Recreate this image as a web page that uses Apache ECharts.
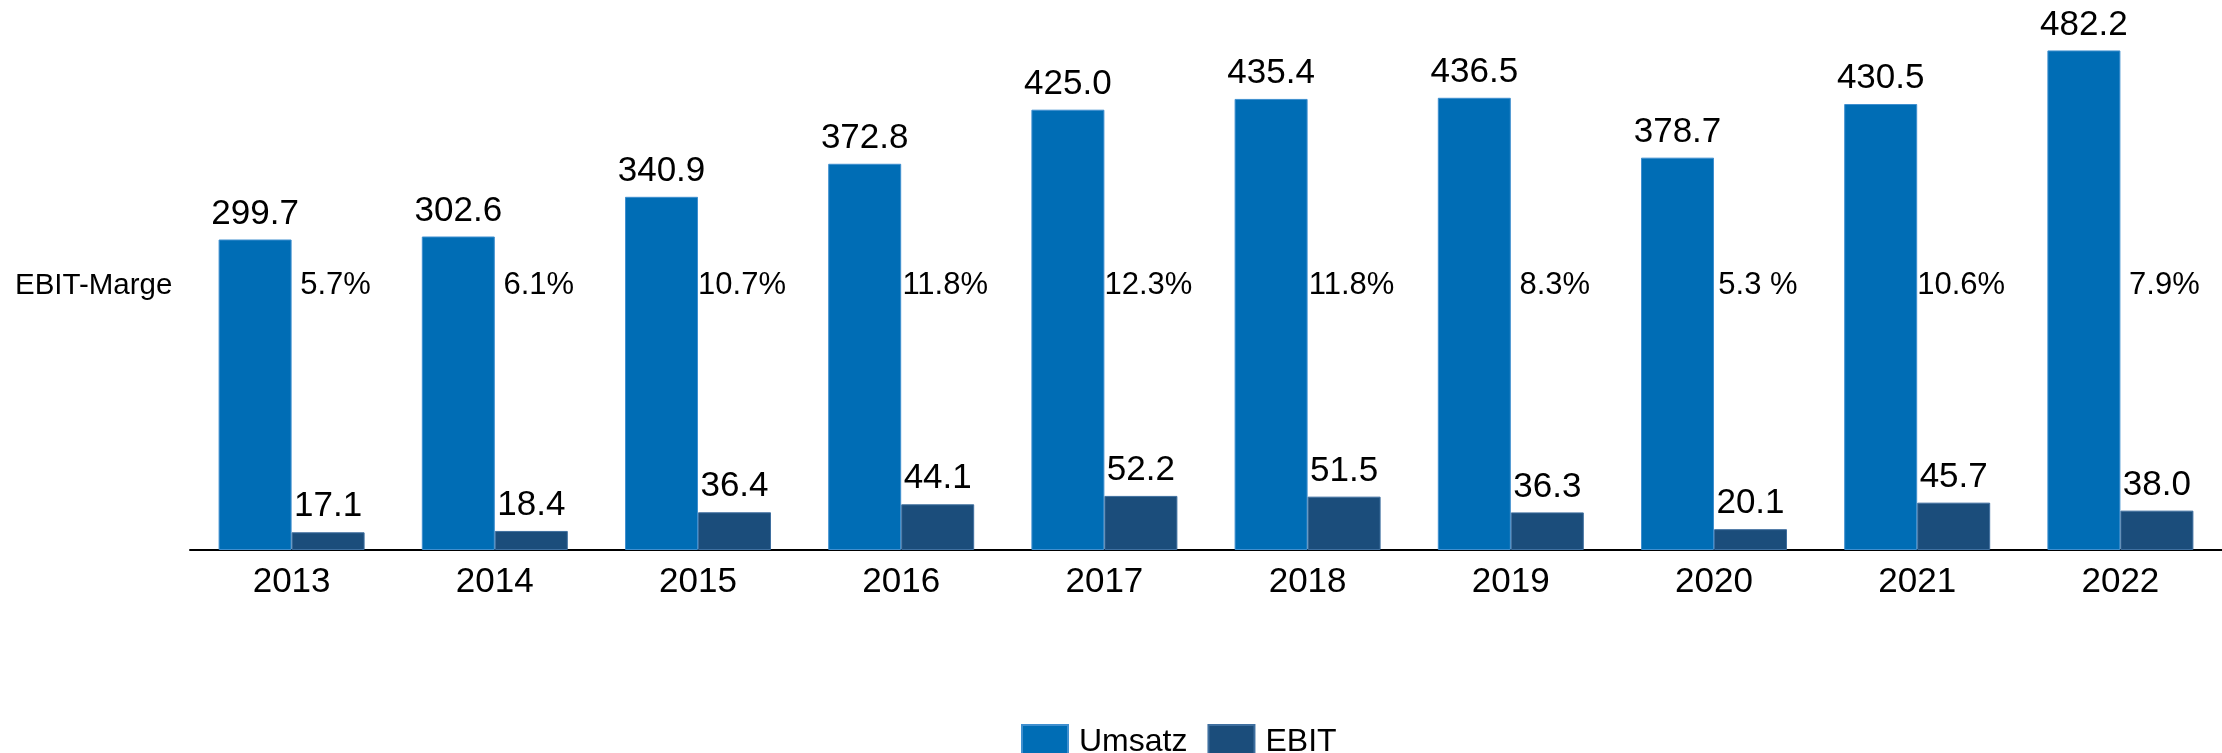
<!DOCTYPE html>
<html>
<head>
<meta charset="utf-8">
<script src="https://cdn.jsdelivr.net/npm/echarts@6/dist/echarts.min.js"></script>
<style>
html,body{margin:0;padding:0;background:#fff;}
#chart{width:2222px;height:753px;}
</style>
</head>
<body>
<div id="chart"></div>
<script>
const years = ['2013','2014','2015','2016','2017','2018','2019','2020','2021','2022'];
const umsatz = [299.7, 302.6, 340.9, 372.8, 425.0, 435.4, 436.5, 378.7, 430.5, 482.2];
const ebit = [17.1, 18.4, 36.4, 44.1, 52.2, 51.5, 36.3, 20.1, 45.7, 38.0];
const ebitMarge = ['5.7%', '6.1%', '10.7%', '11.8%', '12.3%', '11.8%', '8.3%', '5.3 %', '10.6%', '7.9%'];

const FONT = "'Liberation Sans', Arial, sans-serif";
const MARGIN_ROW = 255;

const chart = echarts.init(document.getElementById('chart'), null, {renderer: 'canvas'});
chart.setOption({
  animation: false,
  backgroundColor: '#ffffff',
  textStyle: {fontFamily: FONT, color: '#000'},
  title: {
    text: 'EBIT-Marge',
    left: 10,
    top: 266,
    textStyle: {fontFamily: FONT, fontSize: 29.5, fontWeight: 'normal', color: '#000'}
  },
  legend: {
    left: 1016,
    top: 719,
    itemWidth: 46,
    itemHeight: 34,
    itemGap: 20,
    icon: 'rect',
    textStyle: {fontFamily: FONT, fontSize: 32, color: '#000', padding: [0, 0, 0, 6]},
    data: ['Umsatz', 'EBIT']
  },
  grid: {left: 190, right: -6, top: 32, bottom: 203},
  xAxis: {
    type: 'category',
    data: years,
    axisLine: {show: true, lineStyle: {color: '#000', width: 2}},
    axisTick: {show: false},
    axisLabel: {fontFamily: FONT, fontSize: 35, color: '#000', margin: 15}
  },
  yAxis: {
    type: 'value',
    min: 0,
    max: 500,
    show: false,
    splitLine: {show: false}
  },
  series: [
    {
      name: 'Umsatz',
      type: 'bar',
      data: umsatz,
      barWidth: 73,
      barGap: '0%',
      itemStyle: {color: '#006db5', borderColor: '#3f8fcf', borderWidth: 1},
      label: {
        show: true,
        position: 'top',
        distance: 8,
        fontFamily: FONT,
        fontSize: 35,
        color: '#000',
        formatter: p => p.value.toFixed(1)
      }
    },
    {
      name: 'EBIT',
      type: 'bar',
      data: ebit,
      barWidth: 73,
      barGap: '0%',
      itemStyle: {color: '#1b4d7b', borderColor: '#3f6f9f', borderWidth: 1},
      label: {
        show: true,
        position: 'top',
        distance: 8,
        fontFamily: FONT,
        fontSize: 35,
        color: '#000',
        formatter: p => p.value.toFixed(1)
      }
    },
    {
      name: 'EBIT-Marge',
      type: 'scatter',
      symbolSize: 0,
      silent: true,
      itemStyle: {opacity: 1},
      data: ebitMarge.map((m, i) => ({value: [i, MARGIN_ROW], label: {formatter: m}})),
      label: {
        show: true,
        position: 'inside',
        offset: [44, 0],
        fontFamily: FONT,
        fontSize: 31,
        color: '#000',
        opacity: 1
      }
    }
  ]
});
</script>
</body>
</html>
